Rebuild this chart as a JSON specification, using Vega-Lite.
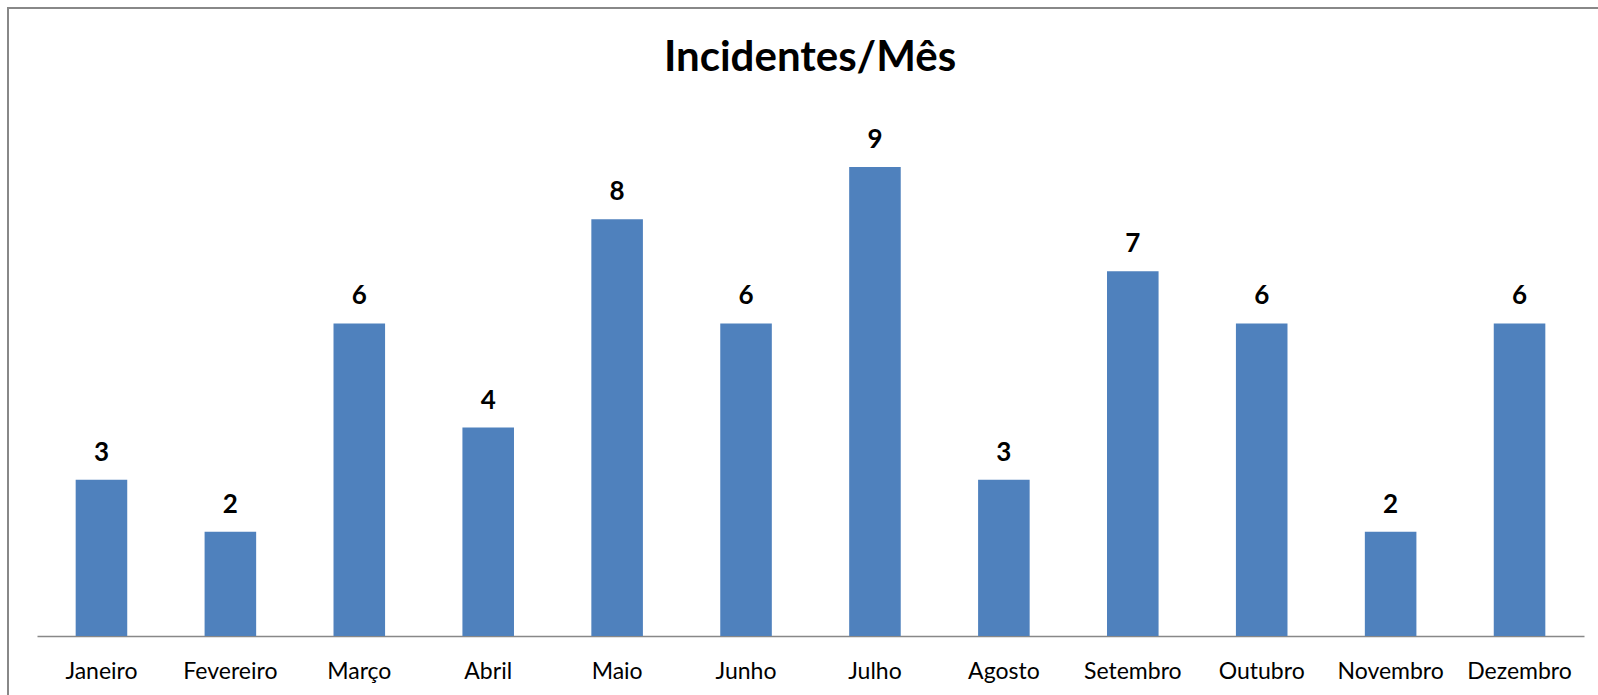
{
  "$schema": "https://vega.github.io/schema/vega-lite/v6.json",
  "width": 1604,
  "height": 700,
  "autosize": {"type": "none"},
  "padding": {"left": 8, "top": 8, "right": 0, "bottom": 0},
  "background": "white",
  "config": {
    "view": {"stroke": "#888888", "strokeWidth": 2},
    "font": "Lato"
  },
  "title": {
    "text": "Incidentes/Mês",
    "font": "Lato",
    "fontSize": 42,
    "fontWeight": "bold",
    "color": "#000000",
    "anchor": "middle",
    "frame": "group",
    "baseline": "alphabetic",
    "offset": -105
  },
  "data": {
    "values": [
      {"mes": "Janeiro", "incidentes": 3},
      {"mes": "Fevereiro", "incidentes": 2},
      {"mes": "Março", "incidentes": 6},
      {"mes": "Abril", "incidentes": 4},
      {"mes": "Maio", "incidentes": 8},
      {"mes": "Junho", "incidentes": 6},
      {"mes": "Julho", "incidentes": 9},
      {"mes": "Agosto", "incidentes": 3},
      {"mes": "Setembro", "incidentes": 7},
      {"mes": "Outubro", "incidentes": 6},
      {"mes": "Novembro", "incidentes": 2},
      {"mes": "Dezembro", "incidentes": 6}
    ]
  },
  "encoding": {
    "x": {
      "field": "mes",
      "type": "nominal",
      "sort": null,
      "scale": {"range": [29, 1576], "paddingInner": 0.6, "paddingOuter": 0.3},
      "axis": {
        "title": null,
        "orient": "bottom",
        "offset": -72,
        "labelAngle": 0,
        "ticks": false,
        "domainColor": "#888888",
        "domainWidth": 1.5,
        "labelFont": "Lato",
        "labelFontSize": 23,
        "labelColor": "#000000",
        "labelBaseline": "alphabetic",
        "labelPadding": 42
      }
    },
    "y": {
      "field": "incidentes",
      "type": "quantitative",
      "scale": {"domain": [0, 10], "range": [628, 107], "nice": false},
      "axis": null
    }
  },
  "layer": [
    {"mark": {"type": "bar", "color": "#4F81BD"}},
    {
      "mark": {
        "type": "text",
        "dy": -19,
        "baseline": "alphabetic",
        "font": "Lato",
        "fontSize": 26,
        "fontWeight": "bold",
        "color": "#000000"
      },
      "encoding": {"text": {"field": "incidentes", "type": "quantitative"}}
    }
  ]
}
